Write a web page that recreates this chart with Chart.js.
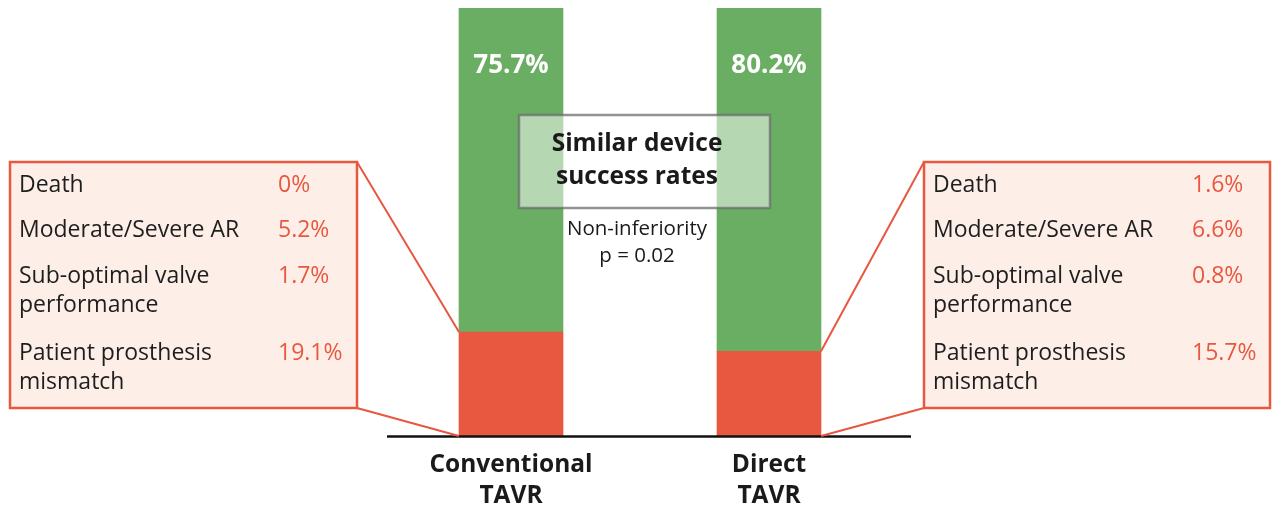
<!DOCTYPE html>
<html>
<head>
<meta charset="utf-8">
<script src="https://cdn.jsdelivr.net/npm/chart.js@4"></script>
<style>
  html, body { margin: 0; padding: 0; background: #fff; }
  #wrap { width: 1275px; height: 510px; }
</style>
</head>
<body>
<div id="wrap"><canvas id="chart" width="1275" height="510"></canvas></div>
<script>
// Bar data (device success vs. failure, %)
const groups = [['Conventional', 'TAVR'], ['Direct', 'TAVR']];
const successRates = [75.7, 80.2];
const failureRates = [24.3, 19.8];

// Components of failure, shown in the side boxes
const componentLabels = [['Death'], ['Moderate/Severe AR'], ['Sub-optimal valve', 'performance'], ['Patient prosthesis', 'mismatch']];
const conventionalComponents = ['0%', '5.2%', '1.7%', '19.1%'];
const directComponents = ['1.6%', '6.6%', '0.8%', '15.7%'];

const GREEN = '#6aae64';
const RED = '#e8573f';
const FONT = '"Open Sans", "Noto Sans", sans-serif';

function drawBox(ctx, x, y, w, h, values) {
    ctx.save();
    ctx.fillStyle = '#fdefe8';
    ctx.fillRect(x, y, w, h);
    ctx.strokeStyle = RED;
    ctx.lineWidth = 2.5;
    ctx.strokeRect(x, y, w, h);
    ctx.textBaseline = 'middle';
    ctx.font = '500 23px ' + FONT;
    const rowY = [23, 68, 114, 191];
    componentLabels.forEach((lines, i) => {
        ctx.fillStyle = '#1e1e1e';
        lines.forEach((t, j) => ctx.fillText(t, x + 9, y + rowY[i] + j * 29));
        ctx.fillStyle = RED;
        ctx.fillText(values[i], x + 268, y + rowY[i]);
    });
    ctx.restore();
}

const annotate = {
    id: 'annotate',
    afterDatasetsDraw(chart) {
        const ctx = chart.ctx;
        const red = chart.getDatasetMeta(0).data;
        const green = chart.getDatasetMeta(1).data;
        const area = chart.chartArea;

        // baseline
        ctx.save();
        ctx.strokeStyle = '#111';
        ctx.lineWidth = 2.5;
        ctx.beginPath();
        ctx.moveTo(387, area.bottom + 0.5);
        ctx.lineTo(911, area.bottom + 0.5);
        ctx.stroke();

        // connector lines
        ctx.strokeStyle = RED;
        ctx.lineWidth = 2;
        const lb = red[0], rb = red[1];
        ctx.beginPath();
        ctx.moveTo(357, 162); ctx.lineTo(lb.x - lb.width / 2, lb.y);
        ctx.moveTo(357, 408); ctx.lineTo(lb.x - lb.width / 2, lb.base);
        ctx.moveTo(924, 162); ctx.lineTo(rb.x + rb.width / 2, rb.y);
        ctx.moveTo(924, 408); ctx.lineTo(rb.x + rb.width / 2, rb.base);
        ctx.stroke();
        ctx.restore();

        drawBox(ctx, 10, 162, 347, 246, conventionalComponents);
        drawBox(ctx, 924, 162, 346, 246, directComponents);

        // success percentages
        ctx.save();
        ctx.fillStyle = '#fff';
        ctx.font = 'bold 26px ' + FONT;
        ctx.textAlign = 'center';
        ctx.textBaseline = 'middle';
        green.forEach((b, i) => ctx.fillText(successRates[i].toFixed(1) + '%', b.x, 66));

        // centre callout
        ctx.fillStyle = 'rgba(255,255,255,0.5)';
        ctx.fillRect(519, 115, 251, 93);
        ctx.strokeStyle = 'rgba(110,110,110,0.75)';
        ctx.lineWidth = 2.5;
        ctx.strokeRect(519, 115, 251, 93);
        ctx.fillStyle = '#1a1a1a';
        ctx.font = 'bold 24.5px ' + FONT;
        ctx.fillText('Similar device', 637, 144);
        ctx.fillText('success rates', 637, 177);
        ctx.font = '500 20.5px ' + FONT;
        ctx.fillText('Non-inferiority', 637, 229);
        ctx.fillText('p = 0.02', 637, 256);

        // category labels
        ctx.font = 'bold 24.5px ' + FONT;
        groups.forEach((lines, i) => {
            const x = chart.scales.x.getPixelForValue(i);
            lines.forEach((t, j) => ctx.fillText(t, x, 465 + j * 31));
        });
        ctx.restore();
    }
};

new Chart(document.getElementById('chart').getContext('2d'), {
    type: 'bar',
    data: {
        labels: groups.map(g => g.join(' ')),
        datasets: [
            { label: 'Failure', data: failureRates, backgroundColor: RED, barThickness: 104 },
            { label: 'Success', data: successRates, backgroundColor: GREEN, barThickness: 104 }
        ]
    },
    options: {
        responsive: false,
        animation: false,
        layout: { padding: { left: 382, right: 377, top: 8, bottom: 74 } },
        plugins: { legend: { display: false }, tooltip: { enabled: false } },
        scales: {
            x: { stacked: true, display: false },
            y: { stacked: true, display: false, min: 0, max: 100 }
        }
    },
    plugins: [annotate]
});
</script>
</body>
</html>
